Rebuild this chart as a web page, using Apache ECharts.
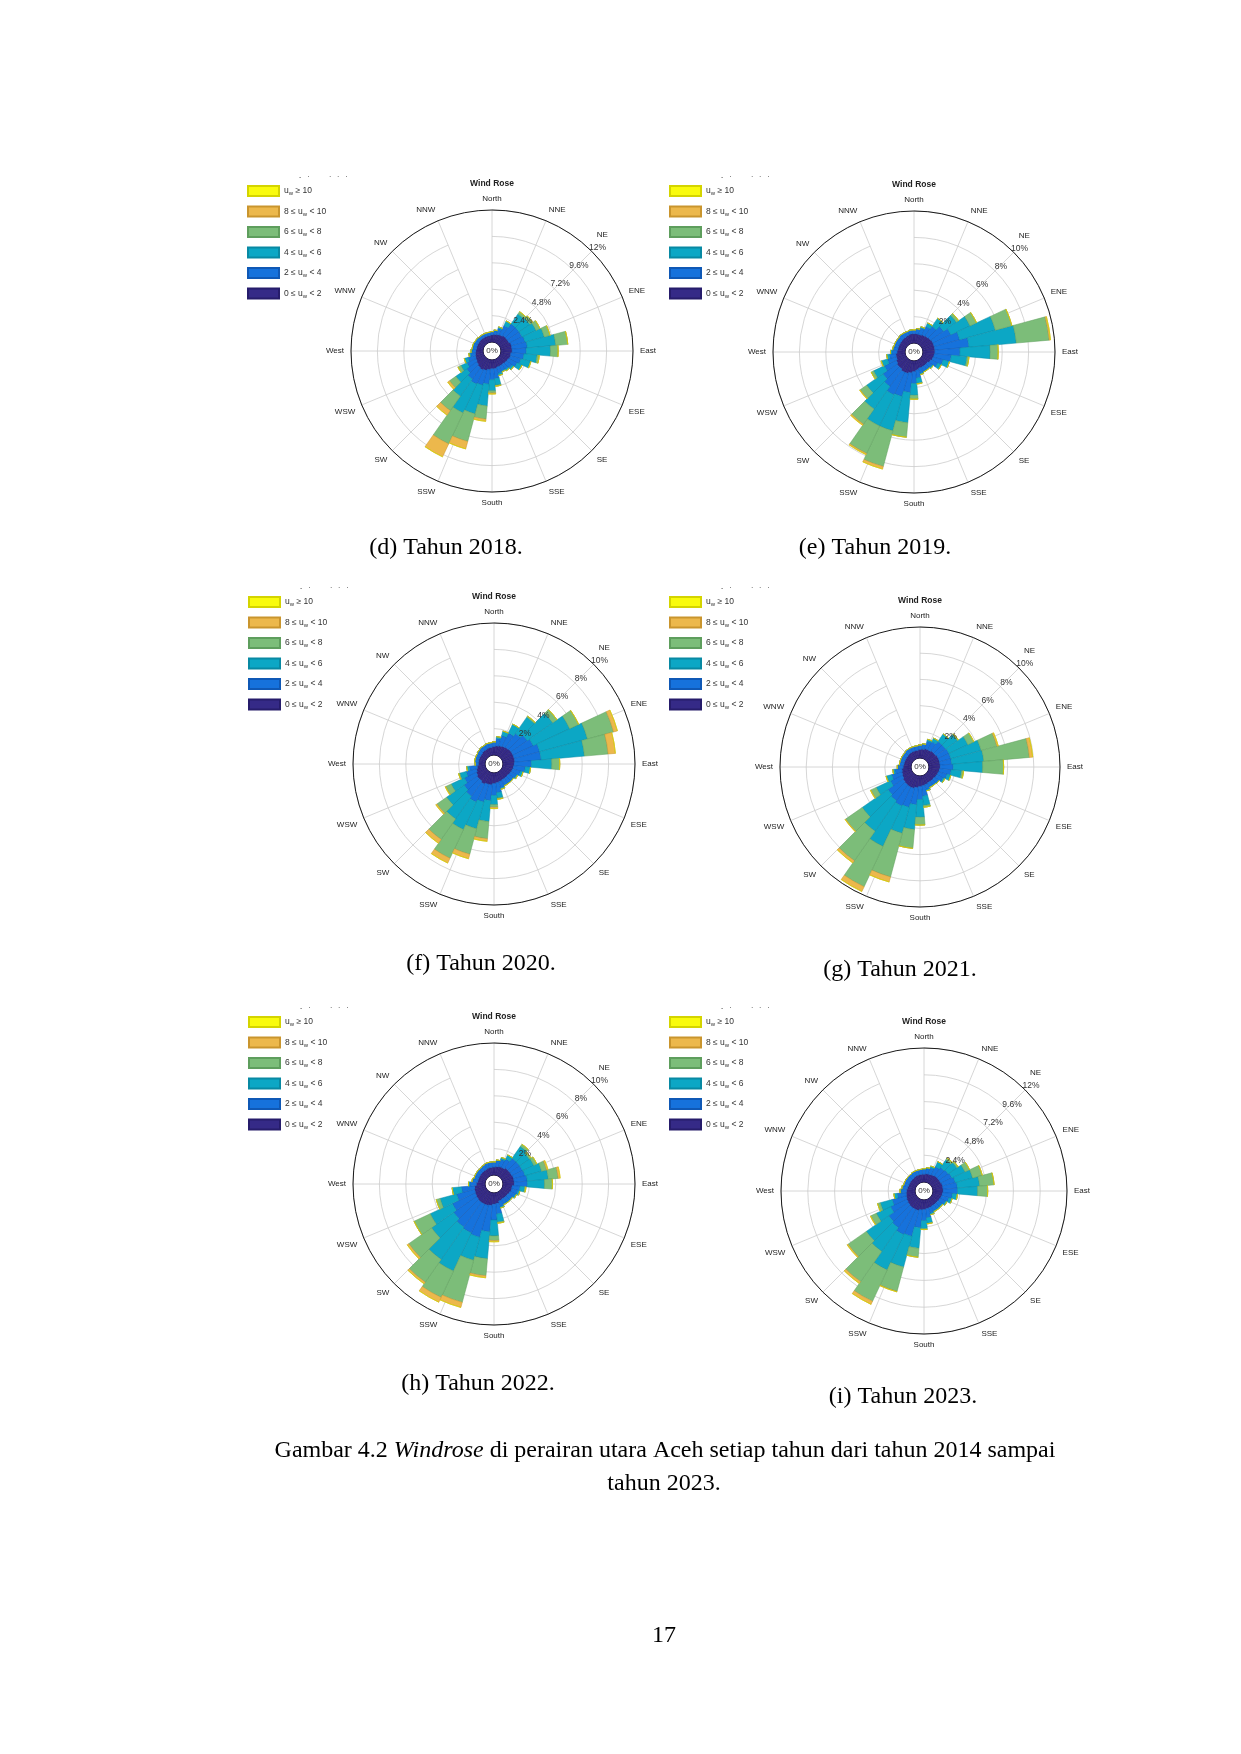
<!DOCTYPE html>
<html>
<head>
<meta charset="utf-8">
<title>Windrose perairan utara Aceh 2018-2023</title>
<script src="https://cdn.jsdelivr.net/npm/echarts@6.0.0/dist/echarts.min.js"></script>
<style>
  html, body { margin: 0; padding: 0; background: #ffffff; }
  #page { width: 1241px; height: 1754px; }
</style>
</head>
<body>
<div id="page"></div>
<script>
// ---- data (percent of time, per 10 deg sector, sector 0 = North, clockwise) ----
var YEARS = ['2018', '2019', '2020', '2021', '2022', '2023'];
var CAPTIONS = ['(d) Tahun 2018.', '(e) Tahun 2019.', '(f) Tahun 2020.', '(g) Tahun 2021.', '(h) Tahun 2022.', '(i) Tahun 2023.'];
var RING_MAX = [12, 10, 10, 10, 10, 12];
var DIRECTIONS = ['North', 'NNE', 'NE', 'ENE', 'East', 'ESE', 'SE', 'SSE', 'South', 'SSW', 'SW', 'WSW', 'West', 'WNW', 'NW', 'NNW'];
var SECTORS = ['0', '10', '20', '30', '40', '50', '60', '70', '80', '90', '100', '110',
               '120', '130', '140', '150', '160', '170', '180', '190', '200', '210', '220', '230',
               '240', '250', '260', '270', '280', '290', '300', '310', '320', '330', '340', '350'];
var BIN_NAMES = ['0 \u2264 u_w < 2', '2 \u2264 u_w < 4', '4 \u2264 u_w < 6', '6 \u2264 u_w < 8', '8 \u2264 u_w < 10', 'u_w \u2265 10'];

var y2018_0to2 = [0.65,0.7,0.75,0.8,0.9,0.9, 0.9,1.0,1.0,1.0,0.9,0.9, 0.8,0.75,0.7,0.7,0.7,0.8, 0.8,0.9,1.0,1.1,1.0,0.9, 0.8,0.75,0.7,0.65,0.6,0.6, 0.6,0.6,0.6,0.6,0.6,0.6];
var y2018_2to4 = [0.3,0.35,0.55,0.95,1.3,1.3, 1.3,1.3,1.4,1.3,1.2,1.0, 0.9,0.65,0.55,0.5,0.6,0.9, 1.0,1.3,1.4,1.4,1.3,1.1, 0.9,0.7,0.45,0.35,0.35,0.35, 0.3,0.3,0.3,0.3,0.3,0.3];
var y2018_4to6 = [0,0.05,0.15,0.45,1.1,1.2, 1.4,1.8,2.6,2.2,1.2,0.9, 0.5,0.2,0.15,0.1,0.2,0.6, 1.0,2.0,2.7,2.9,1.9,1.2, 0.6,0.3,0.15,0.1,0.05,0.05, 0.05,0.05,0,0,0,0];
var y2018_6to8 = [0,0,0,0,0.25,0.3, 0.4,0.55,1.1,0.7,0.2,0.05, 0,0,0,0,0,0.1, 0.2,1.2,2.6,3.1,1.6,0.7, 0.3,0.05,0,0,0,0, 0,0,0,0,0,0];
var y2018_8to10 = [0,0,0,0,0,0, 0,0,0,0,0,0, 0,0,0,0,0,0, 0.1,0.2,0.7,1.3,0.5,0.2, 0,0,0,0,0,0, 0,0,0,0,0,0];
var y2018_over10 = [0,0,0,0,0,0, 0,0,0,0,0,0, 0,0,0,0,0,0, 0,0,0,0,0,0, 0,0,0,0,0,0, 0,0,0,0,0,0];

var y2019_0to2 = [0.7,0.7,0.7,0.75,0.8,0.85, 0.9,0.9,0.9,0.9,0.85,0.8, 0.7,0.6,0.6,0.6,0.6,0.7, 0.8,0.9,1.0,1.0,0.9,0.9, 0.8,0.7,0.7,0.6,0.55,0.55, 0.55,0.55,0.6,0.6,0.65,0.7];
var y2019_2to4 = [0.3,0.4,0.5,0.7,0.9,1.2, 1.5,2.0,2.6,1.9,1.3,0.8, 0.6,0.4,0.35,0.35,0.4,0.6, 0.9,1.5,1.8,1.9,1.6,1.3, 1.0,0.7,0.5,0.4,0.35,0.35, 0.35,0.35,0.35,0.35,0.3,0.3];
var y2019_4to6 = [0,0,0.1,0.3,0.7,1.2, 1.6,2.8,3.6,2.3,1.2,0.5, 0.3,0.1,0.05,0.05,0.1,0.4, 0.9,2.3,2.7,2.6,2.1,1.5, 0.9,0.45,0.2,0.1,0.05,0, 0,0,0,0,0,0];
var y2019_6to8 = [0,0,0,0,0.05,0.2, 0.55,1.3,2.5,0.6,0.15,0, 0,0,0,0,0,0.05, 0.3,1.1,2.8,2.3,1.4,0.6, 0.2,0.05,0,0,0,0, 0,0,0,0,0,0];
var y2019_8to10 = [0,0,0,0,0,0, 0,0,0.1,0,0,0, 0,0,0,0,0,0, 0,0,0.2,0.1,0.1,0.05, 0,0,0,0,0,0, 0,0,0,0,0,0];
var y2019_over10 = [0,0,0,0,0,0, 0,0,0,0,0,0, 0,0,0,0,0,0, 0,0,0,0,0,0, 0,0,0,0,0,0, 0,0,0,0,0,0];

var y2020_0to2 = [0.65,0.7,0.75,0.8,0.85,0.9, 0.9,0.9,0.9,0.85,0.8,0.75, 0.7,0.65,0.65,0.65,0.7,0.75, 0.8,0.9,0.9,1.0,0.9,0.9, 0.8,0.7,0.6,0.5,0.5,0.5, 0.5,0.5,0.55,0.55,0.6,0.6];
var y2020_2to4 = [0.35,0.55,0.8,1.1,1.3,1.5, 1.7,2.0,2.0,1.3,0.9,0.65, 0.5,0.45,0.45,0.45,0.5,0.75, 0.9,1.2,1.4,1.5,1.4,1.2, 1.0,0.8,0.6,0.25,0.3,0.3, 0.3,0.35,0.35,0.35,0.35,0.35];
var y2020_4to6 = [0,0.15,0.35,0.75,1.5,2.35, 3.05,3.75,3.3,1.55,0.4,0.2, 0.1,0.05,0.05,0.05,0.1,0.4, 0.7,1.6,2.1,2.3,2.1,1.6, 1.1,0.5,0.2,0,0,0, 0,0,0,0,0,0];
var y2020_6to8 = [0,0,0,0,0.1,0.4, 0.75,2.05,1.8,0.6,0,0, 0,0,0,0,0,0.1, 0.2,1.3,2.0,2.4,1.9,0.9, 0.45,0.1,0,0,0,0, 0,0,0,0,0,0];
var y2020_8to10 = [0,0,0,0,0,0, 0,0.3,0.55,0,0,0, 0,0,0,0,0,0, 0.1,0.2,0.35,0.4,0.35,0.1, 0.05,0,0,0,0,0, 0,0,0,0,0,0];
var y2020_over10 = [0,0,0,0,0,0, 0,0,0,0,0,0, 0,0,0,0,0,0, 0,0,0,0,0,0, 0,0,0,0,0,0, 0,0,0,0,0,0];

var y2021_0to2 = [0.65,0.7,0.75,0.75,0.8,0.8, 0.85,0.85,0.85,0.85,0.8,0.75, 0.7,0.65,0.65,0.65,0.7,0.75, 0.8,0.9,1.0,1.0,0.95,0.9, 0.8,0.75,0.7,0.6,0.55,0.55, 0.55,0.55,0.6,0.6,0.6,0.6];
var y2021_2to4 = [0.35,0.4,0.6,0.7,0.9,0.9, 0.9,0.9,0.9,1.0,0.9,0.7, 0.55,0.4,0.35,0.35,0.4,0.8, 1.0,1.3,1.5,1.6,1.5,1.4, 1.0,0.8,0.55,0.4,0.35,0.35, 0.35,0.35,0.35,0.35,0.35,0.35];
var y2021_4to6 = [0,0,0.15,0.3,0.7,1.1, 1.6,2.4,2.45,2.25,0.8,0.3, 0.15,0.05,0.05,0.05,0.1,0.7, 1.35,1.9,2.05,3.4,2.85,2.4, 1.2,0.4,0.15,0.05,0,0, 0,0,0,0,0,0];
var y2021_6to8 = [0,0,0,0,0,0.1, 0.5,1.25,3.5,1.6,0.15,0, 0,0,0,0,0,0.15, 0.6,1.45,3.45,3.4,2.75,1.55, 0.45,0.05,0,0,0,0, 0,0,0,0,0,0];
var y2021_8to10 = [0,0,0,0,0,0, 0,0.1,0.25,0,0,0, 0,0,0,0,0,0, 0,0,0.4,0.4,0.2,0.05, 0.05,0,0,0,0,0, 0,0,0,0,0,0];
var y2021_over10 = [0,0,0,0,0,0, 0,0,0,0,0,0, 0,0,0,0,0,0, 0,0,0,0,0,0, 0,0,0,0,0,0, 0,0,0,0,0,0];

var y2022_0to2 = [0.6,0.65,0.7,0.7,0.8,0.8, 0.8,0.85,0.85,0.85,0.7,0.7, 0.65,0.6,0.6,0.6,0.65,0.8, 0.85,0.95,1.0,1.0,1.0,0.95, 0.9,0.85,0.8,0.65,0.55,0.55, 0.55,0.55,0.55,0.55,0.6,0.6];
var y2022_2to4 = [0.4,0.45,0.55,0.7,0.9,0.9, 0.9,0.9,1.0,1.0,0.6,0.5, 0.45,0.4,0.4,0.4,0.45,0.8, 1.2,2.0,2.5,2.4,2.3,2.1, 1.9,1.4,1.0,0.5,0.4,0.35, 0.35,0.35,0.35,0.4,0.4,0.4];
var y2022_4to6 = [0,0.05,0.15,0.35,1.1,0.9, 0.95,1.3,1.6,1.3,0.35,0.15, 0.1,0.05,0.05,0.05,0.1,0.6, 1.2,2.05,1.8,3.2,3.0,2.05, 1.85,1.3,0.7,0.1,0.05,0, 0,0,0,0,0,0];
var y2022_6to8 = [0,0,0,0,0.2,0.15, 0.25,0.4,0.75,0.6,0.1,0, 0,0,0,0,0,0.1, 0.35,1.3,3.3,2.2,2.1,2.1, 1.35,0.3,0,0,0,0, 0,0,0,0,0,0];
var y2022_8to10 = [0,0,0,0,0,0, 0,0.1,0.15,0,0,0, 0,0,0,0,0,0, 0.1,0.15,0.4,0.4,0.15,0.15, 0,0,0,0,0,0, 0,0,0,0,0,0];
var y2022_over10 = [0,0,0,0,0,0, 0,0,0,0,0,0, 0,0,0,0,0,0, 0,0,0,0,0,0, 0,0,0,0,0,0, 0,0,0,0,0,0];

var y2023_0to2 = [0.7,0.75,0.75,0.8,0.85,0.85, 0.85,0.9,0.9,0.9,0.85,0.8, 0.75,0.7,0.7,0.7,0.75,0.8, 0.85,0.9,1.0,1.0,1.0,0.95, 0.9,0.85,0.8,0.75,0.7,0.65, 0.65,0.65,0.65,0.7,0.7,0.7];
var y2023_2to4 = [0.45,0.5,0.6,0.8,0.9,1.0, 1.1,1.2,1.3,1.3,0.9,0.7, 0.55,0.45,0.45,0.45,0.5,0.8, 1.0,1.6,2.4,2.5,2.2,2.1, 1.6,1.3,0.8,0.5,0.45,0.45, 0.45,0.45,0.45,0.45,0.45,0.45];
var y2023_4to6 = [0.05,0.05,0.15,0.5,0.85,0.95, 1.3,1.6,2.0,1.8,0.45,0.3, 0.15,0.1,0.1,0.1,0.15,0.5, 0.7,1.85,2.85,3.5,2.6,2.45, 1.4,1.1,0.3,0.1,0.05,0, 0,0,0,0,0,0];
var y2023_6to8 = [0,0,0,0,0.2,0.15, 0.45,0.9,1.3,0.9,0,0, 0,0,0,0,0,0.05, 0.1,0.8,2.25,3.1,3.3,2.0, 0.55,0.25,0,0,0,0, 0,0,0,0,0,0];
var y2023_8to10 = [0,0,0,0,0,0, 0,0,0,0,0,0, 0,0,0,0,0,0, 0,0,0.05,0.3,0.2,0.1, 0.05,0,0,0,0,0, 0,0,0,0,0,0];
var y2023_over10 = [0,0,0,0,0,0, 0,0,0,0,0,0, 0,0,0,0,0,0, 0,0,0,0,0,0, 0,0,0,0,0,0, 0,0,0,0,0,0];

var WIND = [
  [y2018_0to2, y2018_2to4, y2018_4to6, y2018_6to8, y2018_8to10, y2018_over10],
  [y2019_0to2, y2019_2to4, y2019_4to6, y2019_6to8, y2019_8to10, y2019_over10],
  [y2020_0to2, y2020_2to4, y2020_4to6, y2020_6to8, y2020_8to10, y2020_over10],
  [y2021_0to2, y2021_2to4, y2021_4to6, y2021_6to8, y2021_8to10, y2021_over10],
  [y2022_0to2, y2022_2to4, y2022_4to6, y2022_6to8, y2022_8to10, y2022_over10],
  [y2023_0to2, y2023_2to4, y2023_4to6, y2023_6to8, y2023_8to10, y2023_over10]
];

// ---- layout / style ----
var COLORS = ['#352a87', '#1672dc', '#0ca7c5', '#7cbd79', '#ecb84c', '#f9fb0e'];
var EDGES = ['#261c6b', '#0f58b5', '#0889a3', '#5e9e5d', '#c9952e', '#d4d400'];
var CENTERS = [[492, 351], [914, 352], [494, 764], [920, 767], [494, 1184], [924, 1191]];
var RADII = [141, 141, 141, 140, 141, 143];
var HOLE = 9;
var LEGEND_POS = [[247, 185], [669, 185], [248, 596], [669, 596], [248, 1016], [669, 1016]];
var CAPTION_POS = [[446, 548], [875, 548], [481, 964], [900, 970], [478, 1384], [903, 1397]];
var SANS = '"Liberation Sans", Arial, sans-serif';
var SERIF = '"Liberation Serif", "Times New Roman", serif';

function legendLabel(name) {
  var p = name.split('u_w');
  return '{t|' + p[0] + 'u}{s|w}{t|' + p[1] + '}';
}

// NE sits above the outermost ring label, as in the source figure
function directionLabel(name) {
  return name === 'NE' ? '{ne|NE}' : name;
}

function text(x, y, str, size, extra) {
  var style = {
    text: str, fill: '#000', fontSize: size, fontFamily: SANS,
    align: 'center', textAlign: 'center', verticalAlign: 'middle', textVerticalAlign: 'middle'
  };
  for (var key in extra) style[key] = extra[key];
  return { type: 'text', x: x, y: y, z: 100, silent: true, style: style };
}

var chart = echarts.init(document.getElementById('page'));
var option = {
  animation: false,
  backgroundColor: '#ffffff',
  polar: [], angleAxis: [], radiusAxis: [], legend: [], series: [],
  graphic: { elements: [] }
};
var marks = option.graphic.elements;

YEARS.forEach(function (year, k) {
  var c = CENTERS[k], r = RADII[k], top = RING_MAX[k], p = k * 3;

  // polar p: bars, p+1: grid + direction labels, p+2: ring labels
  option.polar.push({ center: c, radius: [HOLE, r] });
  option.polar.push({ center: c, radius: [HOLE, r] });
  option.polar.push({ center: c, radius: [HOLE + 8, r + 7] });

  option.angleAxis.push({ polarIndex: p, type: 'category', data: SECTORS, startAngle: 95, show: false });
  option.radiusAxis.push({ polarIndex: p, min: 0, max: top, show: false });

  option.angleAxis.push({
    polarIndex: p + 1, type: 'category', data: DIRECTIONS, boundaryGap: false, startAngle: 90,
    axisLine: { lineStyle: { color: '#1a1a1a', width: 1 } },
    axisTick: { show: false },
    axisLabel: {
      interval: 0, margin: 7, fontSize: 8, color: '#222', fontFamily: SANS,
      formatter: directionLabel,
      rich: { ne: { fontSize: 8, color: '#222', fontFamily: SANS, padding: [0, 0, 8, 0] } }
    },
    splitLine: { show: true, interval: 0, lineStyle: { color: '#cccccc', width: 0.8 } }
  });
  option.radiusAxis.push({
    polarIndex: p + 1, min: 0, max: top, interval: top / 5,
    axisLine: { show: false }, axisTick: { show: false }, axisLabel: { show: false },
    splitLine: { show: true, lineStyle: { color: '#cccccc', width: 0.8 } }
  });

  option.angleAxis.push({ polarIndex: p + 2, type: 'value', min: 0, max: 360, startAngle: 44.5, show: false });
  option.radiusAxis.push({
    polarIndex: p + 2, min: 0, max: top, interval: top / 5, z: 10,
    axisLine: { show: false }, axisTick: { show: false }, splitLine: { show: false },
    axisLabel: {
      showMinLabel: false, margin: 0, align: 'center', verticalAlign: 'middle',
      fontSize: 8.5, color: '#333', fontFamily: SANS, formatter: '{value}%'
    }
  });

  WIND[k].forEach(function (values, j) {
    option.series.push({
      type: 'bar', name: BIN_NAMES[j], coordinateSystem: 'polar', polarIndex: p,
      stack: 'rose' + year, data: values, barCategoryGap: '0%', silent: true,
      itemStyle: { color: COLORS[j], borderColor: EDGES[j], borderWidth: 0.5 },
      emphasis: { disabled: true }
    });
  });

  option.legend.push({
    left: LEGEND_POS[k][0], top: LEGEND_POS[k][1], orient: 'vertical', padding: 0,
    itemWidth: 31, itemHeight: 10, itemGap: 8.5, icon: 'rect', selectedMode: false,
    data: BIN_NAMES.slice().reverse(),
    formatter: legendLabel,
    textStyle: {
      fontSize: 8.5, color: '#333', fontFamily: SANS,
      rich: {
        t: { fontSize: 8.5, color: '#333', fontFamily: SANS },
        s: { fontSize: 6, color: '#333', fontFamily: SANS, padding: [5, 0, 0, 0] }
      }
    }
  });

  marks.push(text(c[0], c[1] - r - 26.5, 'Wind Rose', 8.5, { fontWeight: 'bold', fill: '#222' }));
  marks.push(text(c[0], c[1], '0%', 8, { fill: '#333' }));
  marks.push(text(LEGEND_POS[k][0] + 52, LEGEND_POS[k][1] - 8, '-   \u00b7          \u00b7   \u00b7   \u00b7', 7,
    { fill: '#555', align: 'left', textAlign: 'left' }));
  marks.push(text(CAPTION_POS[k][0], CAPTION_POS[k][1], CAPTIONS[k], 24, { fontFamily: SERIF }));
});

marks.push({
  type: 'text', x: 665, y: 1451, z: 100, silent: true,
  style: {
    text: '{n|Gambar 4.2 }{i|Windrose}{n| di perairan utara Aceh setiap tahun dari tahun 2014 sampai}',
    align: 'center', textAlign: 'center', verticalAlign: 'middle', textVerticalAlign: 'middle',
    fontSize: 24, fontFamily: SERIF, fill: '#000',
    rich: {
      n: { fontSize: 24, fontFamily: SERIF, fill: '#000', color: '#000' },
      i: { fontSize: 24, fontFamily: SERIF, fontStyle: 'italic', fill: '#000', color: '#000' }
    }
  }
});
marks.push(text(664, 1484, 'tahun 2023.', 24, { fontFamily: SERIF }));
marks.push(text(664, 1636, '17', 24, { fontFamily: SERIF }));

chart.setOption(option);
</script>
</body>
</html>
